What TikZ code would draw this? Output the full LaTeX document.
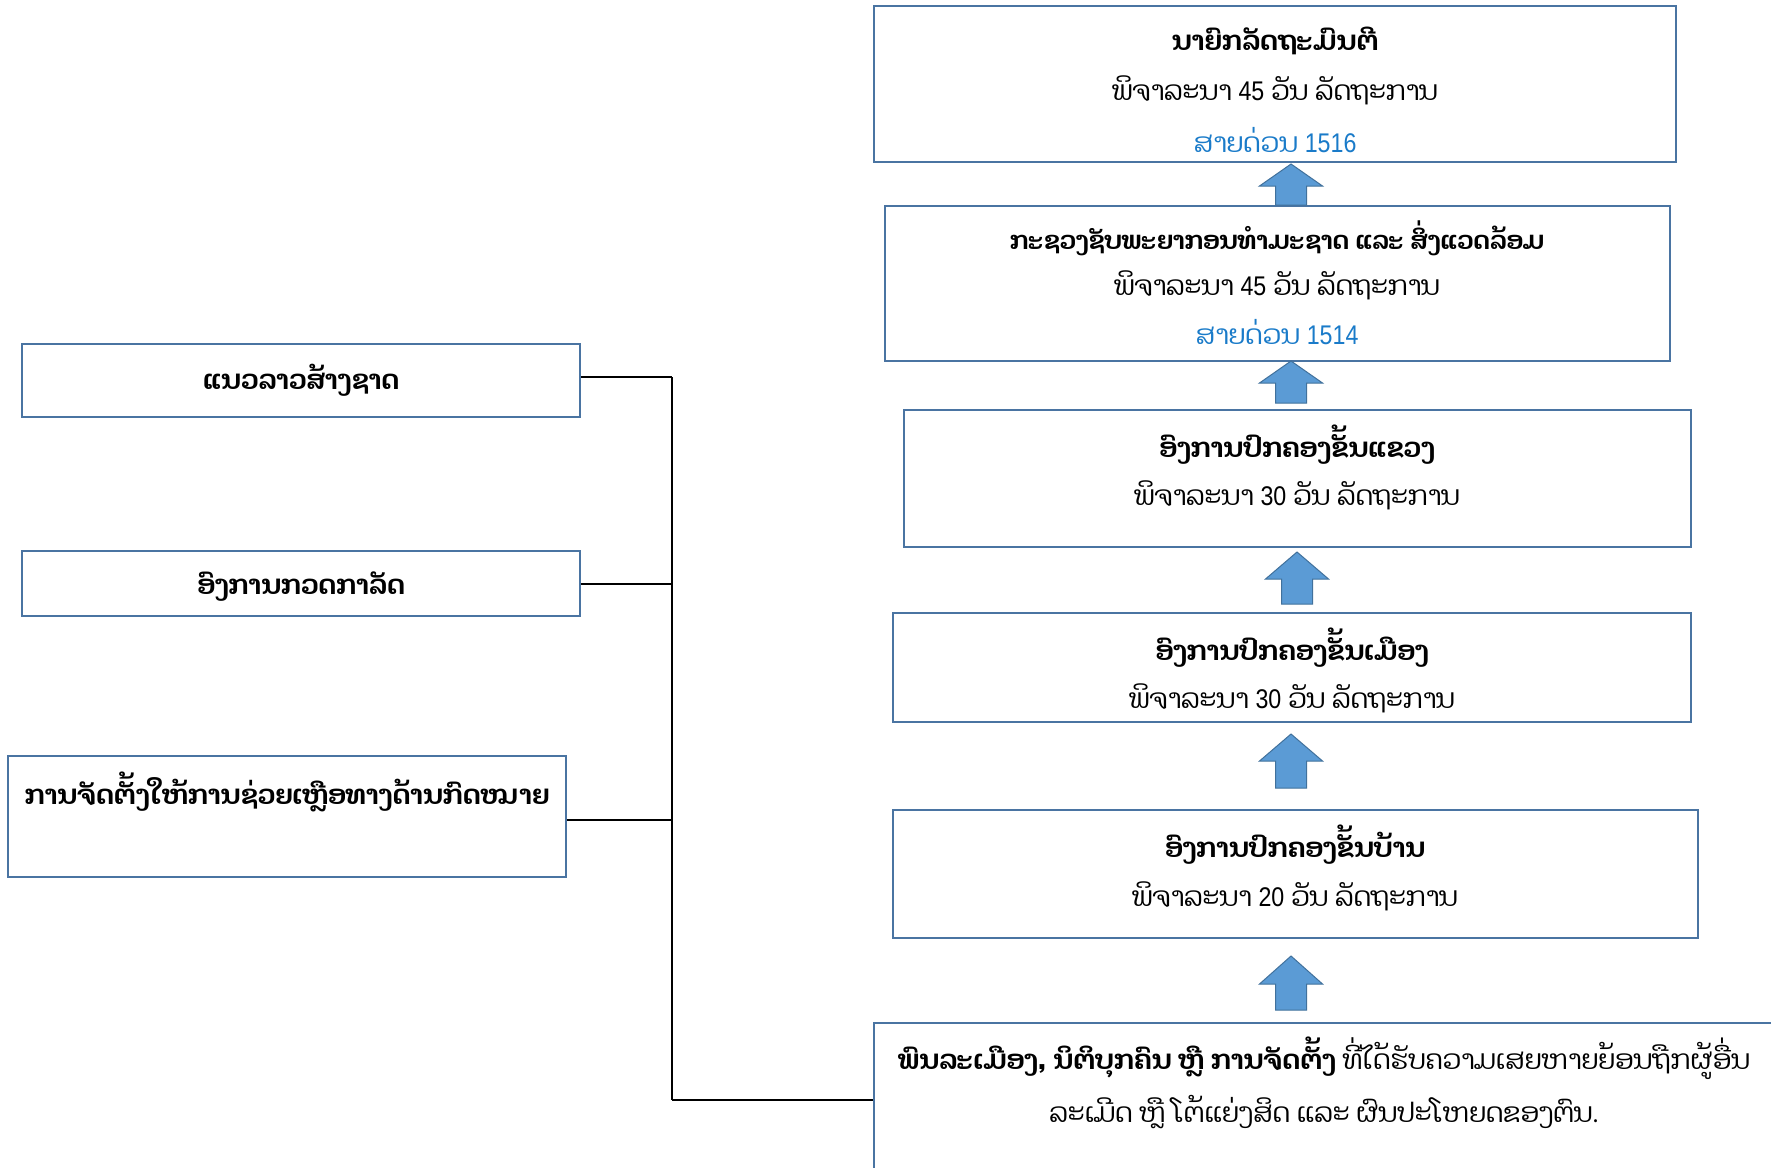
\documentclass[tikz,border=0pt]{standalone}
\usepackage{fontspec}
\setmainfont{Dhyana}[Script=Lao]
\newfontfamily\numfont{Liberation Sans}[FakeStretch=0.86]
\newcommand{\nm}[1]{{\numfont #1}}
\definecolor{boxline}{HTML}{4A74A2}
\definecolor{arrowfill}{HTML}{5B9BD5}
\definecolor{arrowline}{HTML}{41719C}
\definecolor{hotline}{HTML}{1A7BC9}
\tikzset{
  box/.style={draw=boxline, line width=2.6pt, rectangle, inner sep=0pt, fill=white},
  ttl/.style={font=\fontsize{27}{32}\selectfont\bfseries, inner sep=0pt},
  txt/.style={font=\fontsize{27}{32}\selectfont, inner sep=0pt},
  hot/.style={font=\fontsize{27}{32}\selectfont, text=hotline, inner sep=0pt},
  conn/.style={draw=black, line width=2pt},
  barrow/.style={fill=arrowfill, draw=arrowline, line width=1pt, line join=miter}
}
\newcommand{\blockarr}[4]{% x, ytip, yheadbase, ybottom
  \path[barrow] (#1,#2) -- (#1+31.5,#3) -- (#1+15.5,#3) -- (#1+15.5,#4)
    -- (#1-15.5,#4) -- (#1-15.5,#3) -- (#1-31.5,#3) -- cycle;}
\begin{document}
\begin{tikzpicture}[x=1pt,y=-1pt]
\useasboundingbox (0,0) rectangle (1771,1167);
\clip (0,0) rectangle (1771,1167);
\fill[white] (0,0) rectangle (1771,1167);
% right column boxes
\node[box, minimum width=802pt, minimum height=156pt] (pm) at (1275,84) {};
\node[box, minimum width=785pt, minimum height=155pt] (min) at (1277.5,283.5) {};
\node[box, minimum width=787pt, minimum height=137pt] (prov) at (1297.5,478.5) {};
\node[box, minimum width=798pt, minimum height=109pt] (dist) at (1292,667.5) {};
\node[box, minimum width=805pt, minimum height=128pt] (vill) at (1295.5,874) {};
\node[box, minimum width=900pt, minimum height=154pt] (cit) at (1324,1100) {};
% left boxes
\node[box, minimum width=558pt, minimum height=73pt] (lf) at (301,380.5) {};
\node[box, minimum width=558pt, minimum height=65pt] (sa) at (301,583.5) {};
\node[box, minimum width=558pt, minimum height=121pt] (la) at (287,816.5) {};
% texts
\node[ttl] (pmt) at (1275,41) {ນາຍົກລັດຖະມົນຕີ};
\node[txt] (pmd) at (1275,90) {ພິຈາລະນາ \nm{45} ວັນ ລັດຖະການ};
\node[hot] (pmh) at (1275,140) {ສາຍດ່ວນ \nm{1516}};
\node[ttl, font=\fontsize{25}{30}\selectfont\bfseries] (mint) at (1277,238) {ກະຊວງຊັບພະຍາກອນທຳມະຊາດ ແລະ ສິ່ງແວດລ້ອມ};
\node[txt] (mind) at (1277,285) {ພິຈາລະນາ \nm{45} ວັນ ລັດຖະການ};
\node[hot] (minh) at (1277,332) {ສາຍດ່ວນ \nm{1514}};
\node[ttl] (provt) at (1297,445) {ອົງການປົກຄອງຂັ້ນແຂວງ};
\node[txt] (provd) at (1297,495) {ພິຈາລະນາ \nm{30} ວັນ ລັດຖະການ};
\node[ttl] (distt) at (1292,648) {ອົງການປົກຄອງຂັ້ນເມືອງ};
\node[txt] (distd) at (1292,698) {ພິຈາລະນາ \nm{30} ວັນ ລັດຖະການ};
\node[ttl] (villt) at (1295,845) {ອົງການປົກຄອງຂັ້ນບ້ານ};
\node[txt] (villd) at (1295,896) {ພິຈາລະນາ \nm{20} ວັນ ລັດຖະການ};
\node[txt] (cit1) at (1324,1058) {\textbf{ພົນລະເມືອງ, ນິຕິບຸກຄົນ ຫຼື ການຈັດຕັ້ງ} ທີ່ໄດ້ຮັບຄວາມເສຍຫາຍຍ້ອນຖືກຜູ້ອື່ນ};
\node[txt] (cit2) at (1324,1112) {ລະເມີດ ຫຼື ໂຕ້ແຍ່ງສິດ ແລະ ຜົນປະໂຫຍດຂອງຕົນ.};
\node[ttl] (lft) at (301,380) {ແນວລາວສ້າງຊາດ};
\node[ttl] (sat) at (301,587) {ອົງການກວດກາລັດ};
\node[ttl] (lat) at (287,792) {ການຈັດຕັ້ງໃຫ້ການຊ່ວຍເຫຼືອທາງດ້ານກົດໝາຍ};
% block arrows
\blockarr{1291}{164}{186}{205}
\blockarr{1291}{361}{383}{403}
\blockarr{1297}{552}{579}{604}
\blockarr{1291}{734}{761}{788}
\blockarr{1291}{956}{984}{1010}
% connectors
\coordinate (bus) at (672,377);
\coordinate (busend) at (672,1100);
\draw[conn] (lf.east |- bus) -- (bus);
\draw[conn] (sa.east) -- (sa.east -| bus);
\draw[conn] (la.east |- 0,820) -- (bus |- 0,820);
\draw[conn] (bus) -- (busend);
\draw[conn] (busend) -- (cit.west);
\end{tikzpicture}
\end{document}
